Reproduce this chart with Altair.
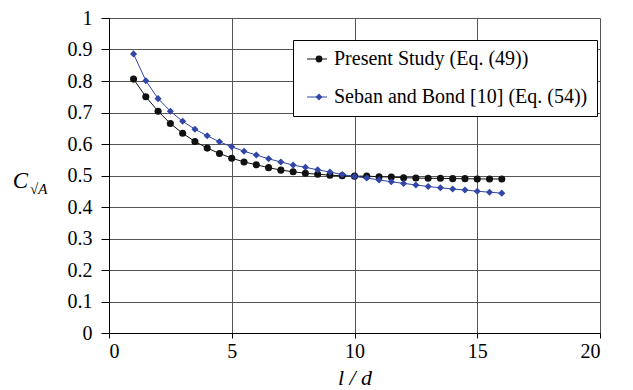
import altair as alt
import pandas as pd

x_vals = [1, 1.5, 2, 2.5, 3, 3.5, 4, 4.5, 5, 5.5, 6, 6.5, 7, 7.5, 8, 8.5, 9, 9.5, 10,
          10.5, 11, 11.5, 12, 12.5, 13, 13.5, 14, 14.5, 15, 15.5, 16]
present = [0.806, 0.750, 0.704, 0.665, 0.634, 0.608, 0.587, 0.570, 0.555, 0.543,
           0.534, 0.525, 0.517, 0.512, 0.507, 0.504, 0.501, 0.499, 0.498,
           0.498, 0.496, 0.495, 0.493, 0.492, 0.491, 0.491, 0.490, 0.490, 0.489, 0.489, 0.489]
seban = [0.886, 0.801, 0.744, 0.704, 0.672, 0.647, 0.626, 0.607, 0.591, 0.577,
         0.565, 0.553, 0.543, 0.533, 0.526, 0.518, 0.511, 0.503, 0.497,
         0.492, 0.486, 0.480, 0.475, 0.470, 0.465, 0.461, 0.457, 0.454, 0.450, 0.447, 0.444]
series_names = ["Present Study (Eq. (49))", "Seban and Bond [10] (Eq. (54))"]
colors = ["#111111", "#3146A6"]
x_ticks = [0, 5, 10, 15, 20]
y_ticks = [0, 0.1, 0.2, 0.3, 0.4, 0.5, 0.6, 0.7, 0.8, 0.9, 1.0]

df = pd.concat([
    pd.DataFrame({"x": x_vals, "y": present, "series": series_names[0]}),
    pd.DataFrame({"x": x_vals, "y": seban, "series": series_names[1]}),
])

FONT = "Liberation Serif"

xenc = alt.X("x:Q", scale=alt.Scale(domain=[0, 20], nice=False),
             axis=alt.Axis(values=x_ticks, title="l / d", titleFontStyle="italic",
                           titleFontWeight="normal", titleFontSize=22, titleFont=FONT,
                           titleY=51, titleBaseline="alphabetic",
                           tickSize=5, labelPadding=3, labelFontSize=20, labelFont=FONT,
                           labelColor="black", grid=True, gridColor="#555555",
                           domainColor="black", tickColor="black"))
yenc = alt.Y("y:Q", scale=alt.Scale(domain=[0, 1], nice=False),
             axis=alt.Axis(values=y_ticks, format=".1~f", title="C", titleAngle=0,
                           titleFontStyle="italic", titleFontWeight="normal", titleFontSize=23,
                           titleFont=FONT, titleX=-89, titleY=162, titleAlign="center",
                           titleBaseline="middle",
                           tickSize=8, labelPadding=9, labelFontSize=20, labelFont=FONT,
                           labelColor="black", grid=True, gridColor="#555555",
                           domainColor="black", tickColor="black"))

leg_common = dict(orient="none", legendY=22, title=None, labelFont=FONT,
                  labelFontSize=20, padding=9, rowPadding=18, labelLimit=400,
                  symbolOffset=5)

lines = alt.Chart(df).mark_line(strokeWidth=1).encode(
    x=xenc, y=yenc,
    stroke=alt.Stroke("series:N",
                      scale=alt.Scale(domain=series_names, range=colors),
                      legend=alt.Legend(legendX=184, symbolType="M-2,0H2", symbolSize=100,
                                        symbolStrokeWidth=1, labelOffset=7,
                                        labelExpr="datum.label + '\u00a0\u00a0\u00a0'",
                                        strokeColor="black", fillColor="white",
                                        labelColor="black", **leg_common)),
)

pt_legend = alt.Legend(legendX=186, symbolSize=46, labelOffset=7, labelExpr="' '",
                       **leg_common)
points = alt.Chart(df).mark_point(filled=True, size=50, opacity=1).encode(
    x=xenc, y=yenc,
    fill=alt.Fill("series:N", scale=alt.Scale(range=colors), legend=pt_legend),
    shape=alt.Shape("series:N", scale=alt.Scale(range=["circle", "diamond"]), legend=pt_legend),
)

sub = alt.Chart(pd.DataFrame({"t": ["√A"]})).mark_text(
    font=FONT, fontSize=15, fontStyle="italic", align="left", baseline="middle"
).encode(text="t:N", x=alt.value(-79), y=alt.value(171))

chart = alt.layer(lines, points, sub).properties(
    width=491, height=315,
    autosize=alt.AutoSizeParams(type="none"),
    padding={"left": 109, "top": 18, "right": 33, "bottom": 57},
).configure_view(stroke=None).configure(background="white")

chart.save("out.html", embed_options={"renderer": "svg", "actions": False})
